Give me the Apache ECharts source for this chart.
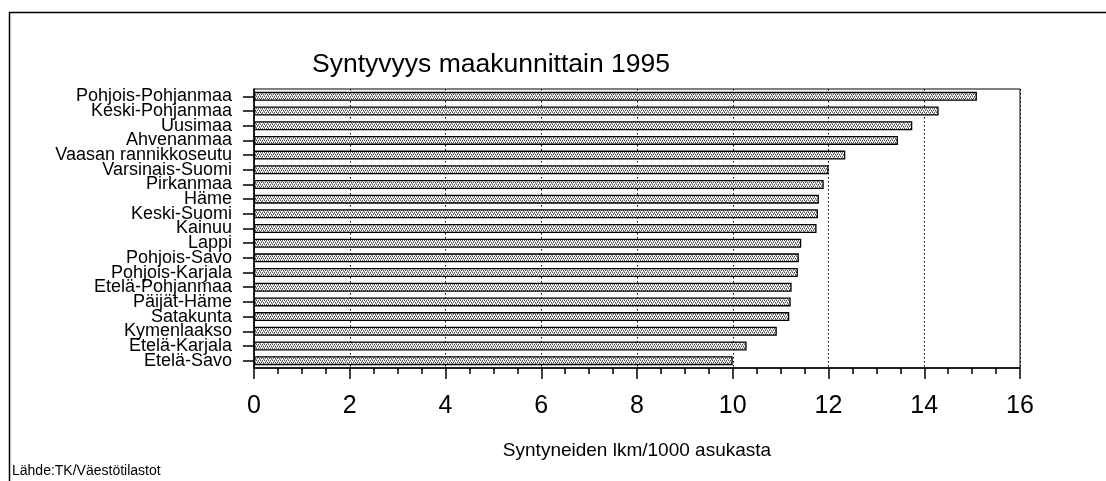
<!DOCTYPE html>
<html>
<head>
<meta charset="utf-8">
<script src="https://cdn.jsdelivr.net/npm/echarts@6/dist/echarts.min.js"></script>
<style>
html, body { margin:0; padding:0; background:#fff; }
#chart_panel { width:1106px; height:481px; }
</style>
</head>
<body>
<div id="chart_panel"></div>
<script>
// maakunnat, ylhaalta alas
var regions = ['Pohjois-Pohjanmaa','Keski-Pohjanmaa','Uusimaa','Ahvenanmaa','Vaasan rannikkoseutu',
	'Varsinais-Suomi','Pirkanmaa','Häme','Keski-Suomi','Kainuu','Lappi','Pohjois-Savo',
	'Pohjois-Karjala','Etelä-Pohjanmaa','Päijät-Häme','Satakunta','Kymenlaakso','Etelä-Karjala','Etelä-Savo'];
// syntyneet / 1000 asukasta
var births = [15.1, 14.3, 13.75, 13.45, 12.35, 12.0, 11.9, 11.8, 11.78, 11.75, 11.43, 11.38,
	11.36, 11.23, 11.21, 11.18, 10.92, 10.29, 10.0];
var xTicks = [0, 2, 4, 6, 8, 10, 12, 14, 16];

// pisterasteri palkkeihin
function dotPattern() {
	var c = document.createElement('canvas');
	c.width = 4; c.height = 4;
	var ctx = c.getContext('2d');
	ctx.fillStyle = '#ffffff';
	ctx.fillRect(0, 0, 4, 4);
	ctx.fillStyle = '#555555';
	ctx.fillRect(0, 0, 1, 1);
	ctx.fillRect(2, 0, 1, 1);
	ctx.fillRect(1, 2, 1, 1);
	ctx.fillRect(3, 2, 1, 1);
	ctx.fillStyle = '#999999';
	ctx.fillRect(1, 1, 1, 1);
	ctx.fillRect(3, 3, 1, 1);
	ctx.fillRect(0, 3, 1, 1);
	ctx.fillRect(2, 1, 1, 1);
	return c;
}

var myChart = echarts.init(document.getElementById('chart_panel'));

var option = {
	backgroundColor: '#fff',
	animation: false,
	textStyle: { fontFamily: 'Liberation Sans, Arial, sans-serif', color: '#000' },
	title: {
		text: 'Syntyvyys maakunnittain 1995',
		left: 307,
		top: 46,
		textStyle: { fontSize: 26.5, fontWeight: 'normal', color: '#000', fontFamily: 'Liberation Sans' }
	},
	grid: {
		left: 254, top: 89, width: 766, height: 279,
		show: true, borderColor: '#000', borderWidth: 1, backgroundColor: 'transparent'
	},
	graphic: [
		{ type: 'line', shape: { x1: 9, y1: 12.5, x2: 1106, y2: 12.5 }, style: { stroke: '#000', lineWidth: 1.5 } },
		{ type: 'line', shape: { x1: 9.5, y1: 12, x2: 9.5, y2: 481 }, style: { stroke: '#000', lineWidth: 1.5 } },
		{ type: 'text', left: 12, top: 464,
			style: { text: 'Lähde:TK/Väestötilastot', fontSize: 14, fill: '#000', fontFamily: 'Liberation Sans' } }
	],
	xAxis: {
		type: 'value',
		min: xTicks[0],
		max: xTicks[xTicks.length - 1],
		interval: 2,
		name: 'Syntyneiden lkm/1000 asukasta',
		nameLocation: 'middle',
		nameGap: 73,
		nameTextStyle: { fontSize: 19, color: '#000' },
		axisLine: { show: true, lineStyle: { color: '#000', width: 1.5 } },
		axisTick: { show: true, length: 11, lineStyle: { color: '#000', width: 1.5 } },
		minorTick: { show: true, splitNumber: 4, length: 6, lineStyle: { color: '#000', width: 1.5 } },
		axisLabel: { fontSize: 25, color: '#000', margin: 26 },
		splitLine: { show: true, lineStyle: { color: '#000', type: [1.5, 2.5], width: 1 } }
	},
	yAxis: {
		type: 'category',
		data: regions,
		inverse: true,
		axisLine: { show: true, lineStyle: { color: '#000', width: 1.5 } },
		axisTick: { show: true, alignWithLabel: true, interval: 0, length: 11, lineStyle: { color: '#000', width: 1.5 } },
		axisLabel: { fontSize: 18, color: '#000', margin: 22, interval: 0, lineHeight: 14 },
		splitLine: { show: false }
	},
	series: [
		{
			type: 'bar',
			data: births,
			barWidth: 9,
			itemStyle: {
				color: { image: dotPattern(), repeat: 'repeat' },
				borderColor: '#000',
				borderWidth: 1.3
			}
		}
	]
};
myChart.setOption(option, true);
window.onresize = myChart.resize;
</script>
</body>
</html>
